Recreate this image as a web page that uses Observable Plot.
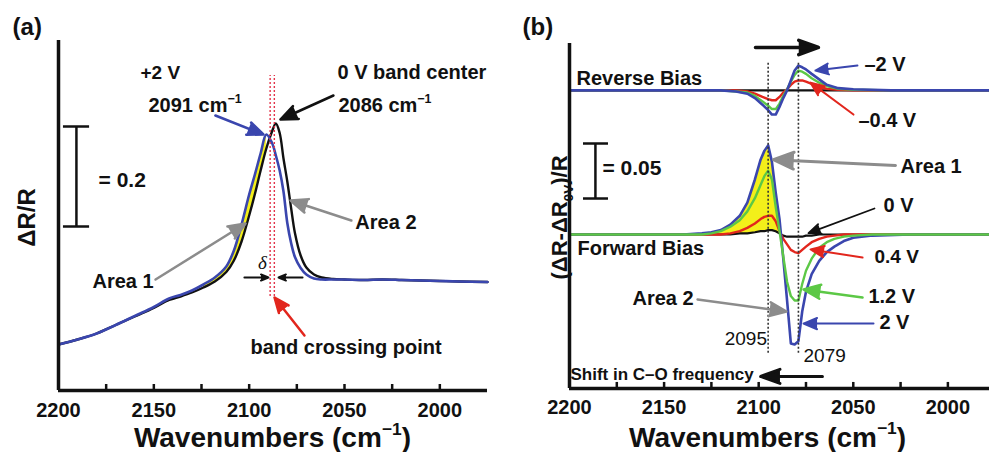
<!DOCTYPE html>
<html><head><meta charset="utf-8">
<script src="https://cdn.jsdelivr.net/npm/d3@7"></script>
<script src="https://cdn.jsdelivr.net/npm/@observablehq/plot@0.6"></script>
<style>
body{margin:0;background:#fff;}
#wrap{position:relative;width:989px;height:452px;overflow:hidden;background:#fff;}
#pa{position:absolute;left:0;top:0;}
#pb{position:absolute;left:490px;top:0;}
svg{overflow:visible;}
</style></head><body><div id="wrap"><div id="pa"></div><div id="pb"></div></div>
<script>
// ---------- DATA: panel (a) ----------
const aWavenumber = [2200, 2190, 2180, 2170, 2160, 2150, 2142, 2136, 2130, 2124, 2118, 2112, 2108, 2104, 2100, 2097, 2094, 2091, 2088, 2086, 2084, 2082, 2080, 2078, 2076, 2073, 2070, 2066, 2062, 2056, 2050, 2040, 2030, 2020, 2010, 2000, 1990, 1975];
const aPlus2V = [0.092, 0.102, 0.114, 0.131, 0.149, 0.167, 0.184, 0.191, 0.200, 0.212, 0.226, 0.248, 0.280, 0.332, 0.392, 0.432, 0.474, 0.512, 0.495, 0.470, 0.440, 0.398, 0.335, 0.295, 0.267, 0.245, 0.232, 0.224, 0.222, 0.222, 0.222, 0.221, 0.222, 0.221, 0.220, 0.219, 0.218, 0.217];
const aZeroV = [0.092, 0.102, 0.114, 0.131, 0.148, 0.165, 0.181, 0.188, 0.196, 0.206, 0.218, 0.237, 0.260, 0.298, 0.350, 0.393, 0.440, 0.484, 0.518, 0.534, 0.515, 0.464, 0.418, 0.365, 0.315, 0.270, 0.246, 0.232, 0.226, 0.223, 0.222, 0.221, 0.222, 0.221, 0.220, 0.219, 0.218, 0.217];
const aTicks = [2175, 2150, 2125, 2100, 2075, 2050, 2025, 2000];
const aTickLabels = [2200, 2150, 2100, 2050, 2000];

// ---------- DATA: panel (b) forward bias ----------
const bFwdWavenumber = [2200, 2180, 2160, 2140, 2130, 2125, 2120, 2115, 2110, 2106, 2102, 2099, 2097, 2095, 2093, 2091, 2089, 2087, 2085, 2083, 2081, 2079, 2077, 2075, 2072, 2068, 2064, 2060, 2055, 2050, 2040, 2020, 2000, 1978];
const fwd0V  = [0, 0, 0, 0, 0, 0, 0, 0, 0.001, 0.001, 0.002, 0.003, 0.003, 0.004, 0.004, 0.003, 0.001, -0.001, -0.002, -0.002, -0.002, -0.002, -0.002, -0.001, -0.001, 0, 0, 0, 0, 0, 0, 0, 0, 0];
const fwd04V = [0, 0, 0, 0, 0, 0, 0, 0.001, 0.003, 0.006, 0.010, 0.014, 0.016, 0.017, 0.017, 0.012, 0.003, -0.004, -0.009, -0.014, -0.016, -0.017, -0.014, -0.011, -0.007, -0.004, -0.002, -0.001, 0, 0, 0, 0, 0, 0];
const fwd12V = [0, 0, 0, 0, 0, 0.001, 0.003, 0.007, 0.013, 0.021, 0.033, 0.045, 0.053, 0.058, 0.050, 0.025, 0.003, -0.020, -0.043, -0.056, -0.060, -0.060, -0.045, -0.033, -0.022, -0.012, -0.007, -0.004, -0.002, -0.001, 0, 0, 0, 0];
const fwd2V  = [0, 0, 0, 0, 0.001, 0.002, 0.004, 0.009, 0.017, 0.029, 0.050, 0.068, 0.076, 0.081, 0.066, 0.038, 0.014, -0.022, -0.060, -0.099, -0.100, -0.097, -0.070, -0.052, -0.036, -0.024, -0.016, -0.011, -0.006, -0.003, -0.001, 0, 0, 0];

// ---------- DATA: panel (b) reverse bias ----------
const bRevWavenumber = [2200, 2160, 2130, 2120, 2112, 2106, 2102, 2098, 2095, 2093, 2091, 2089, 2087, 2085, 2083, 2081, 2079, 2077, 2075, 2072, 2068, 2064, 2058, 2050, 2030, 2000, 1978];
const rev0V   = [0, 0, 0, 0, 0, 0, 0, 0, 0, 0, 0, 0, 0, 0, 0, 0, 0, 0, 0, 0, 0, 0, 0, 0, 0, 0, 0];
const revM04V = [0, 0, 0, 0, 0, -0.001, -0.003, -0.006, -0.008, -0.009, -0.009, -0.006, -0.002, 0.001, 0.005, 0.008, 0.009, 0.009, 0.008, 0.006, 0.003, 0.0015, 0.0005, 0, 0, 0, 0];
const revM12V = [0, 0, 0, 0, -0.001, -0.002, -0.005, -0.010, -0.014, -0.017, -0.017, -0.012, -0.005, 0.001, 0.008, 0.014, 0.018, 0.017, 0.015, 0.011, 0.007, 0.004, 0.0015, 0.0005, 0, 0, 0];
const revM2V  = [0, 0, 0, 0, -0.001, -0.003, -0.007, -0.013, -0.018, -0.022, -0.022, -0.015, -0.007, 0, 0.009, 0.018, 0.0225, 0.021, 0.019, 0.015, 0.010, 0.005, 0.002, 0.001, 0, 0, 0];
const bPeakMarks = [2095, 2079];
const bTicks = [2175, 2150, 2125, 2100, 2075, 2050, 2025, 2000];
const bTickLabels = [2200, 2150, 2100, 2050, 2000];
const reverseOffset = 0.131;

// ---------- STYLE ----------
const FONT = "'Liberation Sans', Arial, Helvetica, sans-serif";
const BLUE = "#3a46ae", RED = "#e2261d", GREEN = "#5cc846", YELLOW = "#f3ef1a", GRAY = "#8c8c8c", INK = "#111";

const T = (str, x, y, o = {}) => Plot.text([str], {x, y, text: d => d, fontWeight: "bold", fontSize: 20, textAnchor: "start", fill: INK, ...o});
const A = (x1, y1, x2, y2, stroke = INK, o = {}) => Plot.arrow([0], {x1, y1, x2, y2, stroke, fill: stroke, strokeWidth: 2.5, headLength: 11, headAngle: 45, strokeLinejoin: "miter", ...o});

function richify(svg) {
  d3.select(svg).selectAll("text").each(function () {
    const src = this.textContent;
    if (!/[\^_]\{/.test(src)) return;
    const fs = parseFloat(getComputedStyle(this).fontSize) || 20;
    const el = d3.select(this);
    el.text(null);
    const re = /([\^_])\{([^}]*)\}/g;
    let last = 0, m, cur = 0;
    const add = (s, off, small) => {
      const ts = el.append("tspan").text(s);
      const dy = off - cur;
      if (dy) ts.attr("dy", dy);
      if (small) ts.attr("font-size", fs * 0.62);
      cur = off;
    };
    while ((m = re.exec(src))) {
      if (m.index > last) add(src.slice(last, m.index), 0, false);
      add(m[2], m[1] === "^" ? -0.45 * fs : 0.28 * fs, true);
      last = re.lastIndex;
    }
    if (last < src.length) add(src.slice(last), 0, false);
  });
}

// ---------- PANEL (a) ----------
const aRows = aWavenumber.map((w, i) => ({w, plus2: aPlus2V[i], zero: aZeroV[i]}));
const aFill = aRows.filter(d => d.w <= 2124 && d.w >= 2091);

const plotA = Plot.plot({
  width: 490, height: 452,
  marginLeft: 58, marginRight: 3, marginTop: 40, marginBottom: 62,
  x: {domain: [2200, 1975], axis: null},
  y: {domain: [0, 0.7], axis: null},
  style: {fontFamily: FONT, background: "transparent", overflow: "visible"},
  marks: [
    Plot.areaY(aFill, {x: "w", y1: "zero", y2: "plus2", fill: YELLOW, curve: "catmull-rom"}),
    Plot.line(aRows, {x: "w", y: "zero", stroke: INK, strokeWidth: 2.4, curve: "catmull-rom"}),
    Plot.line(aRows, {x: "w", y: "plus2", stroke: BLUE, strokeWidth: 2.6, curve: "catmull-rom"}),
    Plot.ruleX([2089, 2086.8], {y1: 0.188, y2: 0.63, stroke: "#e3344a", strokeWidth: 1.4, strokeDasharray: "2,2"}),
    // axes
    Plot.ruleY([0], {stroke: INK, strokeWidth: 3.5}),
    Plot.ruleX([2200], {stroke: INK, strokeWidth: 3.5}),
    Plot.ruleX(aTicks, {x: d => d, y1: 0, y2: 0.012, stroke: INK, strokeWidth: 2.5}),
    Plot.text(aTickLabels, {x: d => d, y: -0.04, text: d => String(d), fontSize: 20, fontWeight: "bold", fill: INK}),
    T("Wavenumbers (cm^{−1})", 2087.8, -0.096, {textAnchor: "middle", fontSize: 28}),
    T("ΔR/R", 2216.3, 0.346, {textAnchor: "middle", fontSize: 24, rotate: -90}),
    T("(a)", 2224.1, 0.726, {fontSize: 24}),
    // scale bar
    Plot.ruleX([2190.6], {y1: 0.328, y2: 0.528, stroke: INK, strokeWidth: 2.5}),
    Plot.ruleY([0.328, 0.528], {x1: 2197.4, x2: 2183.7, stroke: INK, strokeWidth: 2.5}),
    T("= 0.2", 2179, 0.42, {fontSize: 21}),
    // annotations
    T("+2 V", 2157, 0.636, {fontSize: 19}),
    T("2091 cm^{−1}", 2152.8, 0.57, {fontSize: 20}),
    T("0 V band center", 2053.7, 0.636, {fontSize: 20}),
    T("2086 cm^{−1}", 2053.2, 0.57, {fontSize: 20}),
    A(2117.7, 0.55, 2092.5, 0.512, BLUE),
    A(2055.8, 0.59, 2083.6, 0.542, INK),
    T("Area 1", 2182.2, 0.218, {fontSize: 20}),
    A(2149.1, 0.222, 2101.9, 0.334, GRAY),
    T("Area 2", 2044.3, 0.336, {fontSize: 20}),
    A(2046.4, 0.34, 2078.3, 0.38, GRAY),
    Plot.text(["δ"], {x: 2093, y: 0.256, text: d => d, fontSize: 19, fontStyle: "italic", fontFamily: "'Liberation Serif', 'DejaVu Serif', serif", fill: INK}),
    A(2102.5, 0.226, 2089.9, 0.226, INK, {strokeWidth: 2, headLength: 8}),
    A(2072, 0.226, 2084.6, 0.226, INK, {strokeWidth: 2, headLength: 8}),
    T("band crossing point", 2099.3, 0.086, {fontSize: 20}),
    A(2071, 0.11, 2086.7, 0.186, RED)
  ]
});
document.getElementById("pa").appendChild(plotA);
richify(plotA);

// ---------- PANEL (b) ----------
const fRows = bFwdWavenumber.map((w, i) => ({w, v0: fwd0V[i], v04: fwd04V[i], v12: fwd12V[i], v2: fwd2V[i]}));
const fFill = fRows.filter(d => d.w <= 2130 && d.w >= 2089);
const rRows = bRevWavenumber.map((w, i) => ({w, v0: rev0V[i], v04: revM04V[i], v12: revM12V[i], v2: revM2V[i]}));
const rev = k => d => d[k] + reverseOffset;

const plotB = Plot.plot({
  width: 499, height: 452,
  marginLeft: 79, marginRight: 0, marginTop: 43, marginBottom: 64,
  x: {domain: [2200, 1978], axis: null},
  y: {domain: [-0.14, 0.1736], axis: null},
  style: {fontFamily: FONT, background: "transparent", overflow: "visible"},
  marks: [
    // forward bias
    Plot.areaY(fFill, {x: "w", y1: "v0", y2: "v2", fill: YELLOW}),
    Plot.line(fRows, {x: "w", y: "v0", stroke: INK, strokeWidth: 2.2}),
    Plot.line(fRows, {x: "w", y: "v04", stroke: RED, strokeWidth: 2.4}),
    Plot.line(fRows, {x: "w", y: "v2", stroke: BLUE, strokeWidth: 2.6}),
    Plot.line(fRows, {x: "w", y: "v12", stroke: GREEN, strokeWidth: 2.4}),
    // reverse bias
    Plot.line(rRows, {x: "w", y: rev("v0"), stroke: INK, strokeWidth: 2.2}),
    Plot.line(rRows, {x: "w", y: rev("v04"), stroke: RED, strokeWidth: 2.4}),
    Plot.line(rRows, {x: "w", y: rev("v12"), stroke: GREEN, strokeWidth: 2.4}),
    Plot.line(rRows, {x: "w", y: rev("v2"), stroke: BLUE, strokeWidth: 2.6}),
    Plot.ruleX(bPeakMarks, {x: d => d, y1: -0.108, y2: 0.157, stroke: "#333", strokeWidth: 1.6, strokeDasharray: "2,2"}),
    // axes
    Plot.ruleY([-0.14], {stroke: INK, strokeWidth: 3.5}),
    Plot.ruleX([2200], {stroke: INK, strokeWidth: 3.5}),
    Plot.ruleX(bTicks, {x: d => d, y1: -0.14, y2: -0.1345, stroke: INK, strokeWidth: 2.5}),
    Plot.text(bTickLabels, {x: d => d, y: -0.157, text: d => String(d), fontSize: 20, fontWeight: "bold", fill: INK}),
    T("Wavenumbers (cm^{−1})", 2095.3, -0.185, {textAnchor: "middle", fontSize: 28}),
    T("(ΔR-ΔR_{0V})/R", 2205.3, 0.0155, {textAnchor: "middle", fontSize: 22, rotate: -90}),
    T("(b)", 2224.8, 0.188, {fontSize: 24}),
    // scale bar
    Plot.ruleX([2186.3], {y1: 0.0327, y2: 0.0827, stroke: INK, strokeWidth: 2.5}),
    Plot.ruleY([0.0327, 0.0827], {x1: 2192.6, x2: 2179.4, stroke: INK, strokeWidth: 2.5}),
    T("= 0.05", 2182.6, 0.06, {fontSize: 21}),
    // annotations
    A(2101.7, 0.17, 2068.4, 0.17, INK, {strokeWidth: 3.5, headLength: 14, headAngle: 40}),
    T("Reverse Bias", 2196.3, 0.142, {fontSize: 20}),
    T("–2 V", 2044.1, 0.1545, {fontSize: 20}),
    A(2047.8, 0.1536, 2070, 0.149, BLUE, {strokeWidth: 2}),
    T("–0.4 V", 2047.3, 0.1036, {fontSize: 20}),
    A(2049.9, 0.109, 2072.6, 0.138, RED, {strokeWidth: 2}),
    T("Area 1", 2025, 0.0618, {fontSize: 20}),
    A(2027.7, 0.0627, 2092.2, 0.068, GRAY, {strokeWidth: 3}),
    T("0 V", 2034, 0.026, {fontSize: 20}),
    A(2038.8, 0.0236, 2073.7, 0.0012, INK, {strokeWidth: 1.8}),
    T("Forward Bias", 2195.8, -0.0127, {fontSize: 20}),
    T("0.4 V", 2038.8, -0.02, {fontSize: 19}),
    A(2045.1, -0.0209, 2072.6, -0.0136, RED, {strokeWidth: 2}),
    T("1.2 V", 2042, -0.0564, {fontSize: 20}),
    A(2045.1, -0.0573, 2076.3, -0.05, GREEN, {strokeWidth: 2.5}),
    T("2 V", 2036.2, -0.08, {fontSize: 20}),
    A(2039.3, -0.081, 2076.3, -0.081, BLUE, {strokeWidth: 2}),
    T("Area 2", 2166.7, -0.058, {fontSize: 20}),
    A(2132.3, -0.059, 2085.3, -0.07, GRAY, {strokeWidth: 2.5}),
    T("2095", 2095.6, -0.0945, {fontSize: 19, fontWeight: "normal", textAnchor: "end"}),
    T("2079", 2076.3, -0.11, {fontSize: 19, fontWeight: "normal"}),
    T("Shift in C–O frequency", 2199.5, -0.127, {fontSize: 17}),
    A(2066.3, -0.129, 2099.0, -0.129, INK, {strokeWidth: 3, headLength: 12, headAngle: 40})
  ]
});
document.getElementById("pb").appendChild(plotB);
richify(plotB);
</script></body></html>
